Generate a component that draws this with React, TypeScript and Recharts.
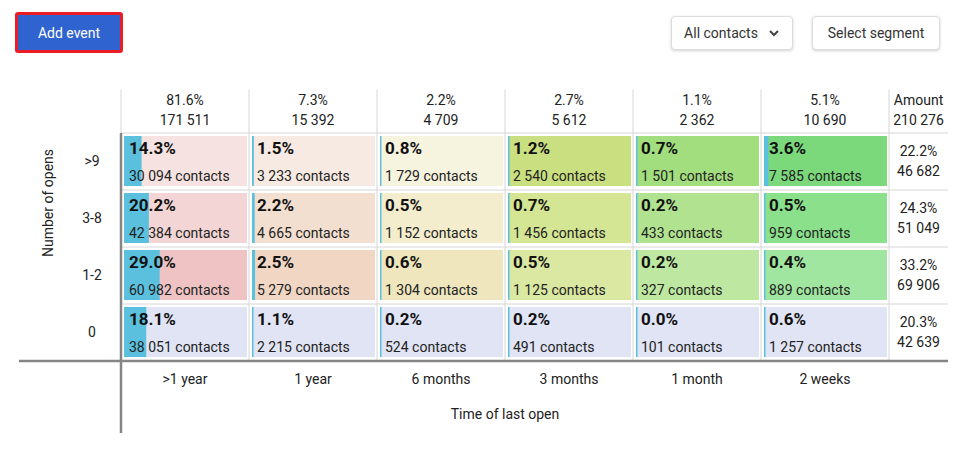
import React from "react";
import {
  ScatterChart,
  Scatter,
  XAxis,
  YAxis,
  ReferenceLine,
} from "recharts";

// columns: time of last open
const timeLabels = [">1 year", "1 year", "6 months", "3 months", "1 month", "2 weeks"];
const colShare = [81.6, 7.3, 2.2, 2.7, 1.1, 5.1];
const colTotal = [171511, 15392, 4709, 5612, 2362, 10690];

// rows: number of opens (top to bottom)
const openLabels = [">9", "3-8", "1-2", "0"];
const rowShare = [22.2, 24.3, 33.2, 20.3];
const rowTotal = [46682, 51049, 69906, 42639];
const grandTotal = 210276;

const pctGt9 = [14.3, 1.5, 0.8, 1.2, 0.7, 3.6];
const pct3to8 = [20.2, 2.2, 0.5, 0.7, 0.2, 0.5];
const pct1to2 = [29.0, 2.5, 0.6, 0.5, 0.2, 0.4];
const pct0 = [18.1, 1.1, 0.2, 0.2, 0.0, 0.6];

const contactsGt9 = [30094, 3233, 1729, 2540, 1501, 7585];
const contacts3to8 = [42384, 4665, 1152, 1456, 433, 959];
const contacts1to2 = [60982, 5279, 1304, 1125, 327, 889];
const contacts0 = [38051, 2215, 524, 491, 101, 1257];

const fillsGt9 = ["#f6e3e1", "#f6eae2", "#f6f3de", "#cadf80", "#a2dd7e", "#7bd97c"];
const fills3to8 = ["#f2d5d4", "#f3dfd0", "#f3edcd", "#d4e593", "#b0e290", "#8ae08b"];
const fills1to2 = ["#efc3c3", "#f0d6c3", "#efe6bd", "#dae8a1", "#bee8a1", "#a0e6a0"];
const fills0 = ["#e1e4f5", "#e1e4f5", "#e1e4f5", "#e1e4f5", "#e1e4f5", "#e1e4f5"];

const pctRows = [pctGt9, pct3to8, pct1to2, pct0];
const contactRows = [contactsGt9, contacts3to8, contacts1to2, contacts0];
const fillRows = [fillsGt9, fills3to8, fills1to2, fills0];

const X_MAX = 6.4609; // 6 columns + "Amount" column
const AMOUNT_X = 6.2305;
const BLUE = "#5bc0de";
const GRID = "#d6d6d6";
const AXIS = "#858585";

const fmt = (n: number) => String(n).replace(/\B(?=(\d{3})+(?!\d))/g, " ");

const cells = pctRows.flatMap((row, r) =>
  row.map((pct, c) => ({
    x: c + 0.5,
    y: 3.5 - r,
    pct,
    count: contactRows[r][c],
    fill: fillRows[r][c],
  }))
);

const amounts = rowShare.map((pct, r) => ({
  x: AMOUNT_X,
  y: 3.5 - r,
  pct,
  total: rowTotal[r],
}));

const CELL_W = 123;
const CELL_H = 50;

const Cell = (props: any) => {
  const { cx, cy, payload } = props;
  const left = cx - 61;
  const top = cy - 25.5;
  const barW = Math.max(1.5, (CELL_W * payload.pct) / 100);
  return (
    <g>
      <rect x={left} y={top} width={CELL_W} height={CELL_H} fill={payload.fill} />
      <rect x={left} y={top} width={barW} height={CELL_H} fill={BLUE} />
      <text x={cx - 56} y={cy - 7.5} fontSize={17} fontWeight={700} fill="#111">
        {payload.pct.toFixed(1)}%
      </text>
      <text x={cx - 56} y={cy + 19.5} fontSize={14} fill="#222">
        {fmt(payload.count)} contacts
      </text>
    </g>
  );
};

const AmountCell = (props: any) => {
  const { cx, cy, payload } = props;
  return (
    <g>
      <text x={cx} y={cy - 6} fontSize={14} fill="#222" textAnchor="middle">
        {payload.pct.toFixed(1)}%
      </text>
      <text x={cx} y={cy + 14} fontSize={14} fill="#222" textAnchor="middle">
        {fmt(payload.total)}
      </text>
    </g>
  );
};

const HeaderTick = (props: any) => {
  const { x, y, payload } = props;
  const v = payload.value;
  const isAmount = v > 6;
  const i = Math.floor(v);
  const top = isAmount ? "Amount" : `${colShare[i].toFixed(1)}%`;
  const bottom = fmt(isAmount ? grandTotal : colTotal[i]);
  return (
    <g>
      <text x={x} y={y - 28} fontSize={14} fill="#222" textAnchor="middle">
        {top}
      </text>
      <text x={x} y={y - 8} fontSize={14} fill="#222" textAnchor="middle">
        {bottom}
      </text>
    </g>
  );
};

const TimeTick = (props: any) => {
  const { x, y, payload } = props;
  return (
    <text x={x} y={y + 23} fontSize={14} fill="#222" textAnchor="middle">
      {timeLabels[Math.floor(payload.value)]}
    </text>
  );
};

const OpensTick = (props: any) => {
  const { x, y, payload } = props;
  return (
    <text x={x - 29} y={y + 4} fontSize={14} fill="#222" textAnchor="middle">
      {openLabels[Math.floor(3.5 - payload.value)]}
    </text>
  );
};

const TimeLabel = (props: any) => {
  const vb = props.viewBox;
  const colW = vb.width / X_MAX;
  return (
    <text x={vb.x + 3 * colW} y={vb.y + 58} fontSize={14} fill="#222" textAnchor="middle">
      Time of last open
    </text>
  );
};

const OpensLabel = (props: any) => {
  const vb = props.viewBox;
  const x = vb.x + 27;
  const y = vb.y + 70;
  return (
    <text
      x={x}
      y={y}
      fontSize={14}
      fill="#222"
      textAnchor="middle"
      dominantBaseline="central"
      transform={`rotate(-90, ${x}, ${y})`}
    >
      Number of opens
    </text>
  );
};

const btn: React.CSSProperties = {
  position: "absolute",
  boxSizing: "border-box",
  display: "flex",
  alignItems: "center",
  justifyContent: "center",
  fontSize: 14,
  borderRadius: 4,
};

export default function App() {
  return (
    <div
      style={{
        position: "absolute",
        left: 0,
        top: 0,
        width: 968,
        height: 462,
        background: "#fff",
        fontFamily: "Roboto, sans-serif",
      }}
    >
      <div
        style={{
          ...btn,
          left: 15,
          top: 12,
          width: 108,
          height: 41,
          background: "#2f63cf",
          border: "3px solid #ec1c24",
          borderRadius: 3,
          color: "#fff",
          fontWeight: 400,
        }}
      >
        Add event
      </div>
      <div
        style={{
          ...btn,
          left: 671,
          top: 16,
          width: 122,
          height: 34,
          background: "#fff",
          border: "1px solid #dcdcdc",
          boxShadow: "0 1px 3px rgba(0,0,0,0.18)",
          color: "#333",
        }}
      >
        All contacts
        <svg width={12} height={12} style={{ marginLeft: 10 }}>
          <path d="M2 4 L6 8 L10 4" stroke="#444" strokeWidth={2} fill="none" />
        </svg>
      </div>
      <div
        style={{
          ...btn,
          left: 812,
          top: 16,
          width: 128,
          height: 34,
          background: "#fff",
          border: "1px solid #dcdcdc",
          boxShadow: "0 1px 3px rgba(0,0,0,0.18)",
          color: "#333",
        }}
      >
        Select segment
      </div>

      <ScatterChart
        width={968}
        height={462}
        margin={{ top: 90, right: 20, bottom: 29, left: 21 }}
        style={{ fontFamily: "Roboto, sans-serif" }}
      >
        <XAxis
          type="number"
          dataKey="x"
          domain={[0, X_MAX]}
          ticks={[0.5, 1.5, 2.5, 3.5, 4.5, 5.5]}
          height={72}
          axisLine={false}
          tickLine={false}
          tickSize={0}
          tickMargin={0}
          tick={<TimeTick />}
          label={TimeLabel}
        />
        <XAxis
          xAxisId="top"
          orientation="top"
          type="number"
          dataKey="x"
          domain={[0, X_MAX]}
          ticks={[0.5, 1.5, 2.5, 3.5, 4.5, 5.5, AMOUNT_X]}
          height={43}
          axisLine={false}
          tickLine={false}
          tickSize={0}
          tickMargin={0}
          tick={<HeaderTick />}
        />
        <YAxis
          type="number"
          dataKey="y"
          domain={[0, 4]}
          ticks={[0.5, 1.5, 2.5, 3.5]}
          width={100}
          axisLine={false}
          tickLine={false}
          tickSize={0}
          tickMargin={0}
          tick={<OpensTick />}
          label={OpensLabel}
        />

        {[0, 1, 2, 3, 4, 5, 6].map((x) => (
          <ReferenceLine
            key={`v${x}`}
            segment={[
              { x, y: 4.754 },
              { x, y: 0 },
            ]}
            stroke={GRID}
            ifOverflow="visible"
          />
        ))}
        {[1, 2, 3, 4].map((y) => (
          <ReferenceLine
            key={`h${y}`}
            segment={[
              { x: 0, y },
              { x: X_MAX, y },
            ]}
            stroke={GRID}
            ifOverflow="visible"
          />
        ))}
        <ReferenceLine
          segment={[
            { x: 0, y: 4 },
            { x: 0, y: -1.263 },
          ]}
          stroke={AXIS}
          strokeWidth={2.5}
          ifOverflow="visible"
        />
        <ReferenceLine
          segment={[
            { x: -0.797, y: 0 },
            { x: X_MAX, y: 0 },
          ]}
          stroke={AXIS}
          strokeWidth={2.5}
          ifOverflow="visible"
        />

        <Scatter data={cells} shape={Cell} isAnimationActive={false} />
        <Scatter
          data={amounts}
          xAxisId="top"
          shape={AmountCell}
          isAnimationActive={false}
        />
      </ScatterChart>
    </div>
  );
}
